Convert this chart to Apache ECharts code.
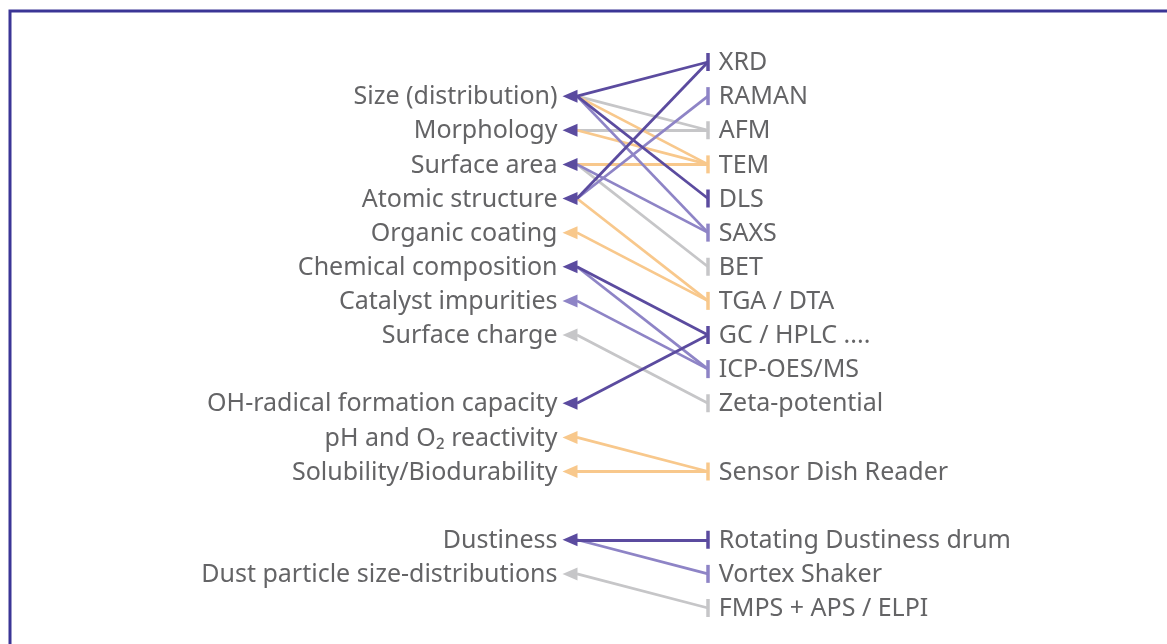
<!DOCTYPE html>
<html style="height: 100%">
<head>
<meta charset="UTF-8">
<title>Properties and methods</title>
<script src="https://cdn.jsdelivr.net/npm/echarts@6/dist/echarts.min.js"></script>
</head>
<body style="height:100%; margin:0; background:#ffffff">
<div id="main" style="width:1167px;height:644px;"></div>
<script type="text/javascript">
// properties (left column), row position and colour group
var propLabels = ['Size (distribution)', 'Morphology', 'Surface area', 'Atomic structure', 'Organic coating',
  'Chemical composition', 'Catalyst impurities', 'Surface charge', 'OH-radical formation capacity',
  'pH and O\u2082 reactivity', 'Solubility/Biodurability', 'Dustiness', 'Dust particle size-distributions'];
var propRows = [1, 2, 3, 4, 5, 6, 7, 8, 10, 11, 12, 14, 15];
var propGroups = ['dark', 'dark', 'dark', 'dark', 'orange', 'dark', 'mid', 'grey', 'dark', 'orange', 'orange', 'dark', 'grey'];

// methods (right column)
var methLabels = ['XRD', 'RAMAN', 'AFM', 'TEM', 'DLS', 'SAXS', 'BET', 'TGA / DTA', 'GC / HPLC ....',
  'ICP-OES/MS', 'Zeta-potential', 'Sensor Dish Reader', 'Rotating Dustiness drum', 'Vortex Shaker', 'FMPS + APS / ELPI'];
var methRows = [0, 1, 2, 3, 4, 5, 6, 7, 8, 9, 10, 12, 14, 15, 16];
var methGroups = ['dark', 'mid', 'grey', 'orange', 'dark', 'mid', 'grey', 'orange', 'dark', 'mid', 'grey', 'orange', 'dark', 'mid', 'grey'];

// links: [property index, method index, group]
var links = [
  [0, 0, 'dark'], [0, 2, 'grey'], [0, 3, 'orange'], [0, 4, 'dark'], [0, 5, 'mid'],
  [1, 2, 'grey'], [1, 3, 'orange'],
  [2, 3, 'orange'], [2, 5, 'mid'], [2, 6, 'grey'],
  [3, 0, 'dark'], [3, 1, 'mid'], [3, 7, 'orange'],
  [4, 7, 'orange'],
  [5, 8, 'dark'], [5, 9, 'mid'],
  [6, 9, 'mid'],
  [7, 10, 'grey'],
  [8, 8, 'dark'],
  [9, 11, 'orange'], [10, 11, 'orange'],
  [11, 12, 'dark'], [11, 13, 'mid'],
  [12, 14, 'grey']
];

var palette = { dark: '#5b4b9f', mid: '#8e84c6', grey: '#c6c6c8', orange: '#f8c88c' };
var textColor = '#646466';
var fontFamily = 'Noto Sans';
var fontSize = 25;

var myChart = echarts.init(document.getElementById('main'));

// draw lighter groups first so the purple ones sit on top
var order = { grey: 0, orange: 1, mid: 2, dark: 3 };
var lineData = links.slice()
  .sort(function (a, b) { return order[a[2]] - order[b[2]]; })
  .map(function (l) {
    return {
      coords: [[0, propRows[l[0]]], [1, methRows[l[1]]]],
      lineStyle: { color: palette[l[2]] }
    };
  });

var arrowData = propLabels.map(function (name, i) {
  return { value: [0, propRows[i]], name: name, itemStyle: { color: palette[propGroups[i]] } };
});
var tickData = methLabels.map(function (name, i) {
  return { value: [1, methRows[i]], name: name, itemStyle: { color: palette[methGroups[i]] } };
});

var option = {
  animation: false,
  graphic: [{
    type: 'rect',
    shape: { x: 10, y: 11, width: 1180, height: 660 },
    style: { fill: 'none', stroke: '#3b3596', lineWidth: 3 },
    silent: true
  }],
  grid: { left: 577, right: 459, top: 62, bottom: 36 },
  xAxis: { type: 'value', min: 0, max: 1, show: false },
  yAxis: { type: 'value', min: 0, max: 16, inverse: true, show: false },
  series: [
    {
      type: 'lines',
      coordinateSystem: 'cartesian2d',
      symbol: ['none', 'none'],
      lineStyle: { width: 2.8, opacity: 1 },
      z: 2,
      data: lineData
    },
    {
      type: 'scatter',
      symbol: 'triangle',
      symbolSize: [13, 15],
      symbolRotate: 90,
      symbolOffset: [-7, 0],
      itemStyle: { opacity: 1 },
      z: 3,
      label: {
        show: true, position: 'left', distance: 5, offset: [0, 1],
        formatter: '{b}', color: textColor, fontSize: fontSize, fontFamily: fontFamily
      },
      data: arrowData
    },
    {
      type: 'scatter',
      symbol: 'rect',
      symbolSize: [3.5, 18],
      itemStyle: { opacity: 1 },
      z: 3,
      label: {
        show: true, position: 'right', distance: 9, offset: [0, 1],
        formatter: '{b}', color: textColor, fontSize: fontSize, fontFamily: fontFamily
      },
      data: tickData
    }
  ]
};
myChart.setOption(option);
</script>
</body>
</html>
